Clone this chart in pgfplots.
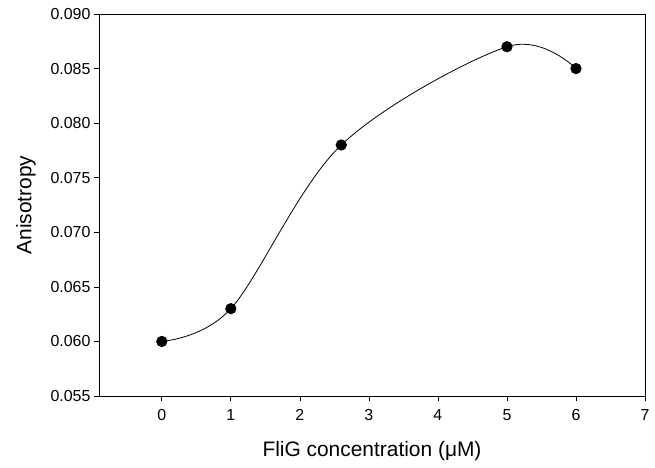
\documentclass[border=0pt]{standalone}
\usepackage{fontspec}
\setmainfont{Liberation Sans}
\usepackage{pgfplots}
\pgfplotsset{compat=1.18}

\begin{document}
\begin{tikzpicture}
\begin{axis}[
    name=ax,
    scale only axis,
    width=546bp, height=382bp,
    xmin=-0.91, xmax=7,
    ymin=0.055, ymax=0.090,
    xtick={0,1,2,3,4,5,6,7},
    ytick={0.055,0.060,0.065,0.070,0.075,0.080,0.085,0.090},
    scaled y ticks=false,
    yticklabel style={/pgf/number format/fixed, /pgf/number format/fixed zerofill, /pgf/number format/precision=3},
    /pgf/number format/assume math mode=true,
    tick align=outside,
    tick pos=left,
    major tick length=5bp,
    tick style={black, line width=0.7pt},
    axis line style={line width=0.8pt},
    ticklabel style={font=\fontsize{16}{18}\selectfont},
    xticklabel style={yshift=-5bp},
    xlabel={FliG concentration (μM)},
    ylabel={Anisotropy},
    label style={font=\fontsize{21}{24}\selectfont},
    xlabel style={yshift=-14bp},
    ylabel style={yshift=8bp},
    clip=false,
]
\addplot[black, line width=0.8pt, smooth, tension=0.55, mark=*, mark size=5.2bp,
    mark options={fill=black}]
    coordinates {
        (0, 0.0600)
        (1, 0.0630)
        (2.6, 0.0780)
        (5, 0.0870)
        (6, 0.0850)
    };
\end{axis}
\pgfresetboundingbox
\path (ax.south west) ++(-99bp,-72bp) rectangle ([shift={(10bp,14bp)}]ax.north east);
\end{tikzpicture}
\end{document}
